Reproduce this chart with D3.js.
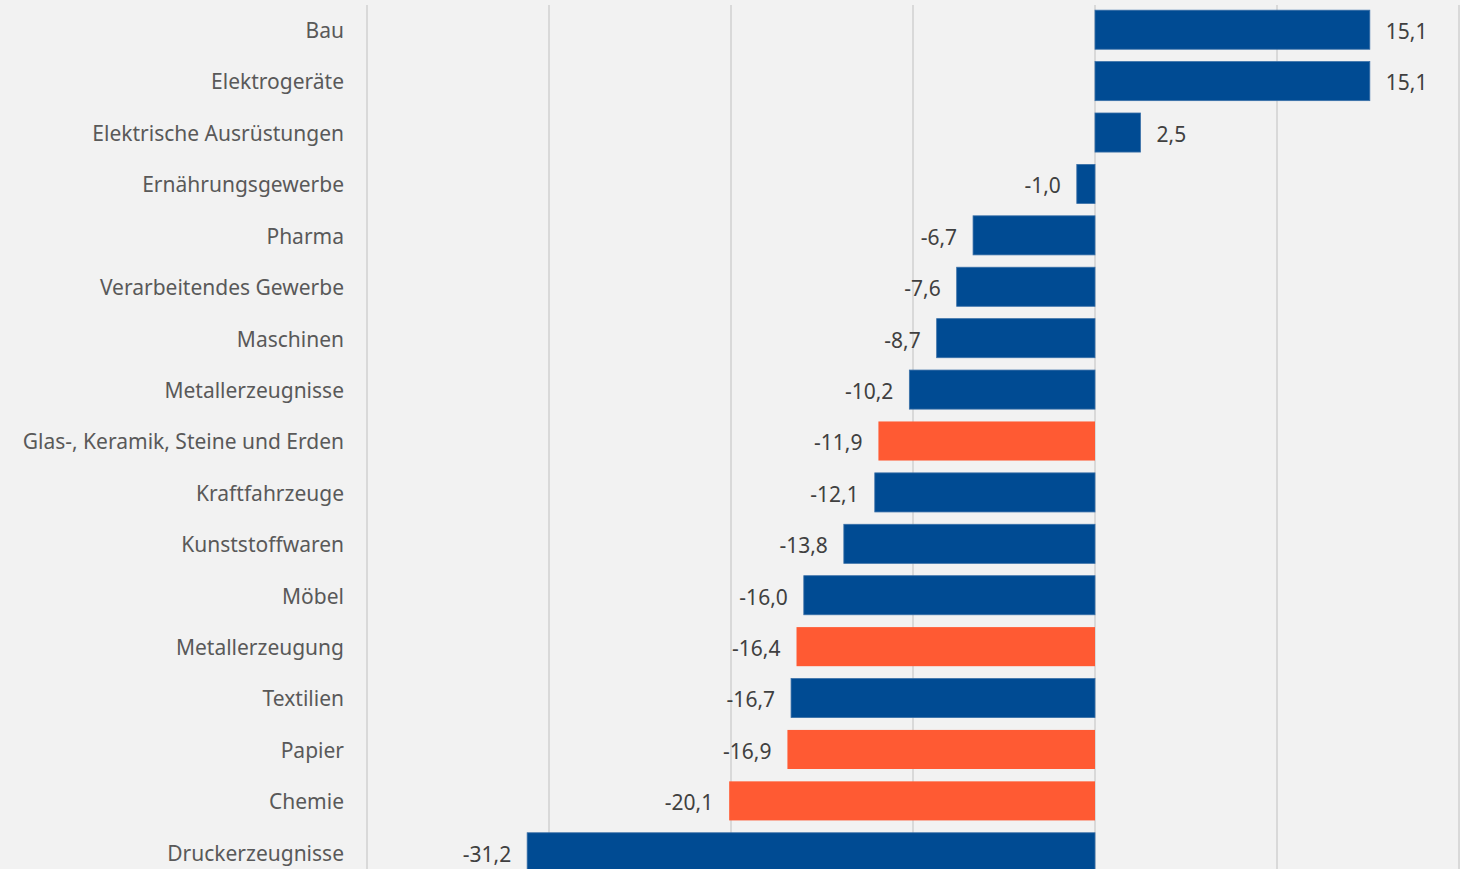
<!DOCTYPE html>
<html><head><meta charset="utf-8">
<script src="https://cdn.jsdelivr.net/npm/d3@7"></script>
<style>html,body{margin:0;padding:0;background:#f2f2f2;}svg{display:block;}</style>
</head><body><svg id="c" width="1460" height="869"></svg>
<script>
const categories = ["Bau","Elektrogeräte","Elektrische Ausrüstungen","Ernährungsgewerbe","Pharma","Verarbeitendes Gewerbe","Maschinen","Metallerzeugnisse","Glas-, Keramik, Steine und Erden","Kraftfahrzeuge","Kunststoffwaren","Möbel","Metallerzeugung","Textilien","Papier","Chemie","Druckerzeugnisse"];
const values = [15.1,15.1,2.5,-1.0,-6.7,-7.6,-8.7,-10.2,-11.9,-12.1,-13.8,-16.0,-16.4,-16.7,-16.9,-20.1,-31.2];
const highlighted = ["Glas-, Keramik, Steine und Erden","Metallerzeugung","Papier","Chemie"];
const gridTicks = [-40,-30,-20,-10,0,10,20];

const svg = d3.select("#c");
const x = d3.scaleLinear().domain([-40,20]).range([367,1459]);
const y = d3.scaleBand().domain(categories).range([4,878]).paddingInner(0.24).paddingOuter(0.12);
const font = "'Noto Sans', sans-serif";

svg.append("rect").attr("width",1460).attr("height",869).attr("fill","#f2f2f2");

svg.append("g").selectAll("line").data(gridTicks).join("line")
  .attr("x1",d=>x(d)).attr("x2",d=>x(d)).attr("y1",5).attr("y2",869)
  .attr("stroke","#d9d9d9").attr("stroke-width",2);

const data = categories.map((c,i)=>({c, v:values[i]}));

svg.append("g").selectAll("rect").data(data).join("rect")
  .attr("x",d=>x(Math.min(0,d.v))).attr("width",d=>Math.abs(x(d.v)-x(0)))
  .attr("y",d=>y(d.c)).attr("height",y.bandwidth())
  .attr("fill",d=>highlighted.includes(d.c)?"#ff5a33":"#004b93")
  .attr("stroke",d=>highlighted.includes(d.c)?"none":"#3a70a8").attr("stroke-width",0.8);

svg.append("g").selectAll("text").data(data).join("text")
  .attr("x",344).attr("y",d=>y(d.c)+y.bandwidth()/2+1)
  .attr("dy","0.35em").attr("text-anchor","end")
  .attr("font-family",font).attr("font-size",21).attr("fill","#595959")
  .text(d=>d.c);

const fmt = v => v.toFixed(1).replace(".",",");
svg.append("g").selectAll("text").data(data).join("text")
  .attr("x",d=>d.v>=0? x(d.v)+16 : x(d.v)-16)
  .attr("y",d=>y(d.c)+y.bandwidth()/2+2)
  .attr("dy","0.35em").attr("text-anchor",d=>d.v>=0?"start":"end")
  .attr("font-family",font).attr("font-size",21).attr("fill","#404040")
  .text(d=>fmt(d.v));
</script></body></html>
